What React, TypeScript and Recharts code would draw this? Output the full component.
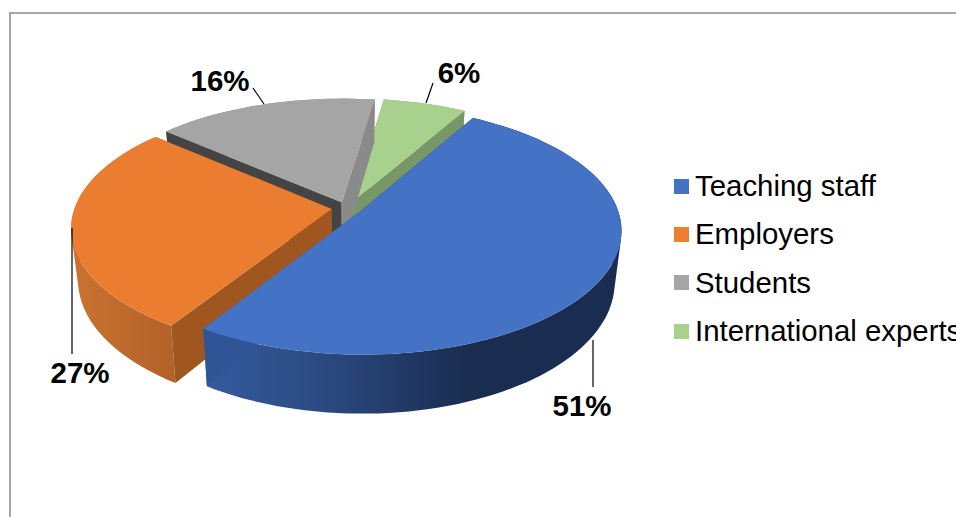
import { Legend, Pie, PieChart } from 'recharts'

const CATEGORIES = ['Teaching staff', 'Employers', 'Students', 'International experts']
// Shown rounded to 51 / 27 / 16 / 6, the slice angles suggest these
const VALUES = [50.7, 27.3, 16, 6]
const LEGEND_COLORS = ['#4472C4', '#ED7D31', '#A5A5A5', '#A9D18E']

// Painter's order: back slices first, so the pie is fed counter-clockwise
const pieData = CATEGORIES.map((name, i) => ({ name, value: VALUES[i] })).reverse()

const SLICE_STYLE: Record<string, { top: string; side: string; loWall: string; hiWall: string }> = {
  'Teaching staff': { top: '#4472C4', side: 'url(#blueSide)', loWall: '#2f5597', hiWall: '#2f5597' },
  Employers: { top: '#EB7D31', side: 'url(#orangeSide)', loWall: '#A0561F', hiWall: '#A0561F' },
  Students: { top: '#A5A5A5', side: '#8a8a8a', loWall: '#444444', hiWall: '#8A8A8A' },
  'International experts': { top: '#A9D18E', side: '#789766', loWall: '#789766', hiWall: '#789766' },
}

const LABEL_SPOTS: Record<string, { x: number; y: number; line: number[] }> = {
  'Teaching staff': { x: 582, y: 405, line: [593, 340, 593, 387] },
  Employers: { x: 80, y: 372, line: [72, 228, 72, 354] },
  Students: { x: 220, y: 80, line: [253, 88, 264, 104] },
  'International experts': { x: 459, y: 72, line: [433, 83, 426, 103] },
}

const SQUASH = 0.47
const PERSPECTIVE = 0.15
const EXPLODE = 0.06
const DEPTH = 50
const BASE_SHRINK = 0.975

function Slice3D(props: any) {
  const { cx, cy, outerRadius: R, startAngle, endAngle, name } = props
  const style = SLICE_STYLE[name]
  const a1 = 90 - startAngle
  const a2 = 90 - endAngle
  const lo = Math.min(a1, a2)
  const hi = Math.max(a1, a2)
  const mid = (((lo + hi) / 2) * Math.PI) / 180
  const du = EXPLODE * Math.sin(mid)
  const dv = -EXPLODE * Math.cos(mid) * 0.85

  const project = (u: number, v: number, base: boolean) => {
    const uu = u + du
    const vv = v + dv
    const p = 1 / (1 - PERSPECTIVE * vv)
    const x = R * uu * p * (base ? BASE_SHRINK : 1)
    const y = R * SQUASH * vv * p + (base ? DEPTH * p : 0)
    return [cx + x, cy + y]
  }
  const rim = (deg: number, base: boolean) => {
    const t = (deg * Math.PI) / 180
    return project(Math.sin(t), -Math.cos(t), base)
  }

  const degs: number[] = []
  const steps = Math.ceil((hi - lo) / 2)
  for (let i = 0; i <= steps; i++) degs.push(lo + ((hi - lo) * i) / steps)

  const toPath = (pts: number[][]) => 'M' + pts.map((p) => `${p[0].toFixed(1)},${p[1].toFixed(1)}`).join('L') + 'Z'
  // all sweep quads wound the same way, otherwise nonzero fill cancels where they overlap
  const wound = (pts: number[][]) => {
    let area = 0
    pts.forEach((p, i) => {
      const q = pts[(i + 1) % pts.length]
      area += p[0] * q[1] - q[0] * p[1]
    })
    return area < 0 ? [...pts].reverse() : pts
  }
  const topArc = degs.map((d) => rim(d, false))
  const baseArc = degs.map((d) => rim(d, true))
  const tip = project(0, 0, false)
  const tipBase = project(0, 0, true)
  const sweep = topArc
    .slice(1)
    .map((p, i) => toPath(wound([topArc[i], p, baseArc[i + 1], baseArc[i]])))
    .join('')

  return (
    <g>
      <path d={sweep} fill={style.side} fillRule="nonzero" />
      <path d={toPath([tip, rim(lo, false), rim(lo, true), tipBase])} fill={style.loWall} />
      <path d={toPath([tip, rim(hi, false), rim(hi, true), tipBase])} fill={style.hiWall} />
      <path d={toPath([tip, ...topArc])} fill={style.top} />
    </g>
  )
}

function SliceLabel(props: any) {
  const spot = LABEL_SPOTS[props.name]
  const [x1, y1, x2, y2] = spot.line
  return (
    <g>
      <line x1={x1} y1={y1} x2={x2} y2={y2} stroke="#000" strokeWidth={1.2} />
      <text
        x={spot.x}
        y={spot.y}
        textAnchor="middle"
        dominantBaseline="central"
        fontFamily="Liberation Sans"
        fontWeight={700}
        fontSize={29.5}
        fill="#000"
      >
        {Math.round(props.value)}%
      </text>
    </g>
  )
}

function LegendList() {
  return (
    <div style={{ fontFamily: 'Liberation Sans', fontSize: 29.4, color: '#000', whiteSpace: 'nowrap' }}>
      {CATEGORIES.map((name, i) => (
        <div key={name} style={{ display: 'flex', alignItems: 'center', height: 48.3 }}>
          <span style={{ width: 15, height: 15, background: LEGEND_COLORS[i], marginRight: 6, flex: 'none' }} />
          {name}
        </div>
      ))}
    </div>
  )
}

export default function App() {
  return (
    <div style={{ position: 'absolute', left: 0, top: 0, width: 956, height: 517, overflow: 'hidden', background: '#fff' }}>
      <div
        style={{
          position: 'absolute',
          left: 9,
          top: 12,
          width: 1000,
          height: 600,
          borderLeft: '2px solid #a6a6a6',
          borderTop: '2px solid #a6a6a6',
        }}
      />
      <div style={{ position: 'absolute', left: 0, top: 0 }}>
        <PieChart width={956} height={517} margin={{ top: 0, right: 0, bottom: 0, left: 0 }}>
          <defs>
            <linearGradient id="blueSide" gradientUnits="userSpaceOnUse" x1={202} y1={0} x2={470} y2={0}>
              <stop offset="0%" stopColor="#355B9F" />
              <stop offset="45%" stopColor="#2B4A80" />
              <stop offset="100%" stopColor="#1A2C50" />
            </linearGradient>
            <linearGradient id="orangeSide" gradientUnits="userSpaceOnUse" x1={72} y1={0} x2={172} y2={0}>
              <stop offset="0%" stopColor="#CA7230" />
              <stop offset="100%" stopColor="#B3622A" />
            </linearGradient>
          </defs>
          <Pie
            data={pieData}
            dataKey="value"
            nameKey="name"
            cx={347}
            cy={208}
            outerRadius={257}
            startAngle={60}
            endAngle={420}
            stroke="none"
            shape={Slice3D}
            label={SliceLabel}
            labelLine={false}
            isAnimationActive={false}
          />
          <Legend
            layout="vertical"
            content={<LegendList />}
            wrapperStyle={{ position: 'absolute', left: 674, top: 162, width: 320, bottom: 'auto', right: 'auto' }}
          />
        </PieChart>
      </div>
    </div>
  )
}
